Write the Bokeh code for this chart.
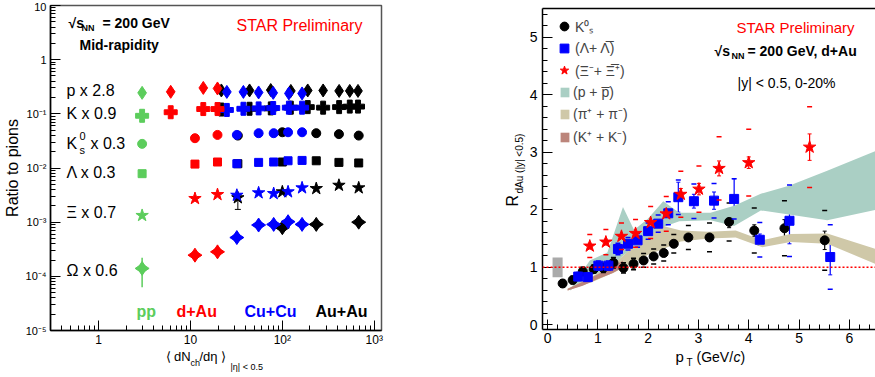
import numpy as np
from bokeh.plotting import figure
from bokeh.models import (Label, Range1d, FixedTicker, CustomJSTickFormatter, Whisker, TeeHead,
                          ColumnDataSource, Legend, LegendItem, LinearAxis, Span)
from bokeh.layouts import row, column
from bokeh.embed import file_html
from bokeh.resources import INLINE

FONT = "Liberation Sans"
GREEN = "#5ccd5c"
RED = "#ff0000"
BLUE = "#0000ff"
BLACK = "#000000"

# ---------------- Left panel: ratios to pions vs <dNch/deta> ----------------
pp_x = [2.98]
pp_p = [0.244]
pp_K = [0.092]
pp_K0s = [0.0279]
pp_Lam = [0.00786]
pp_Xi = [0.00133]
pp_Om = [1.40e-4]
pp_Om_lo = [6.3e-5]
pp_Om_hi = [2.2e-4]

dAu_x_pk = [6.1, 13.8, 19.7]
dAu_p = [0.255, 0.301, 0.294]
dAu_K = [0.107, 0.1225, 0.1225]
dAu_x_s = [11.2, 19.7]
dAu_K0s = [0.0355, 0.0408]
dAu_Lam = [0.0118, 0.0129]
dAu_Xi = [0.00273, 0.00323]
dAu_Om = [2.46e-4, 2.83e-4]

CuCu_x_pk = [24.9, 37.7, 55.2, 79.6, 117.8, 164.0]
CuCu_p = [0.254, 0.254, 0.248, 0.244, 0.238, 0.238]
CuCu_K = [0.118, 0.124, 0.126, 0.128, 0.130, 0.130]
CuCu_x_s = [32.0, 55.2, 80.5, 115.4, 164.0]
CuCu_K0s = [0.0408, 0.0439, 0.0439, 0.0457, 0.0457]
CuCu_Lam = [0.0120, 0.0127, 0.0129, 0.0136, 0.0138]
CuCu_Xi = [0.00314, 0.00348, 0.00337, 0.00363, 0.0043]
CuCu_Om = [5.2e-4, 8.85e-4, 9.1e-4, 1.02e-3, 9.1e-4]

AuAu_x_pk = [21.7, 44.0, 74.8, 123.8, 189.0, 278.0, 415.0, 542.0, 666.0]
AuAu_p = [0.270, 0.270, 0.275, 0.265, 0.270, 0.270, 0.265, 0.265, 0.265]
AuAu_K = [0.120, 0.124, 0.126, 0.130, 0.133, 0.130, 0.133, 0.136, 0.136]
AuAu_x_s = [32.8, 100.0, 234.0, 413.0, 678.0]
AuAu_K0s = [0.0397, 0.0457, 0.0439, 0.0422, 0.0397]
AuAu_Lam = [0.0120, 0.0129, 0.0136, 0.0127, 0.0124]
AuAu_Xi = [0.00282, 0.00363, 0.00417, 0.0048, 0.0043]
AuAu_Xi_err_x = [32.8]
AuAu_Xi_err_lo = [0.00172]
AuAu_Xi_err_hi = [0.0033]
AuAu_x_om = [100.0, 234.0, 678.0]
AuAu_Om = [7.9e-4, 9.1e-4, 1.0e-3]

y_ticks_left = [1e-5, 1e-4, 1e-3, 1e-2, 1e-1, 1, 10]
x_ticks_left = [1, 10, 100, 1000]

# ---------------- Right panel: R_dAu vs pT ----------------
K0s_pt = [0.30, 0.50, 0.70, 0.92, 1.11, 1.31, 1.51, 1.71, 1.91, 2.11, 2.31, 2.51, 2.80, 3.22, 3.61, 4.11, 4.71, 5.51]
K0s_R = [0.72, 0.78, 0.93, 0.97, 0.99, 1.08, 0.99, 1.06, 1.12, 1.19, 1.25, 1.41, 1.52, 1.52, 1.79, 1.64, 1.68, 1.47]
K0s_stat = [0.02, 0.02, 0.02, 0.03, 0.03, 0.03, 0.04, 0.04, 0.04, 0.04, 0.05, 0.05, 0.05, 0.06, 0.10, 0.10, 0.15, 0.16]
K0s_sys = [0.06, 0.06, 0.07, 0.07, 0.08, 0.09, 0.09, 0.10, 0.12, 0.13, 0.14, 0.16, 0.21, 0.25, 0.33, 0.39, 0.48, 0.52]

Lam_pt = [0.61, 0.80, 1.01, 1.21, 1.40, 1.60, 1.79, 2.00, 2.20, 2.40, 2.60, 2.91, 3.31, 3.71, 4.22, 4.81, 5.62]
Lam_R = [0.84, 0.83, 1.03, 1.03, 1.32, 1.41, 1.47, 1.63, 1.76, 1.94, 2.22, 2.15, 2.16, 2.19, 1.48, 1.81, 1.18]
Lam_stat = [0.04, 0.04, 0.05, 0.05, 0.06, 0.06, 0.07, 0.07, 0.08, 0.10, 0.26, 0.12, 0.15, 0.35, 0.10, 0.40, 0.31]
Lam_sys = [0.07, 0.07, 0.08, 0.08, 0.10, 0.11, 0.12, 0.14, 0.15, 0.20, 0.30, 0.30, 0.30, 0.35, 0.30, 0.62, 0.56]

Xi_pt = [0.84, 1.16, 1.47, 1.75, 2.05, 2.36, 2.65, 3.01, 3.41, 4.00, 5.21]
Xi_R = [1.37, 1.44, 1.54, 1.59, 1.78, 1.93, 2.27, 2.36, 2.72, 2.82, 3.09]
Xi_stat = [0.05, 0.05, 0.06, 0.06, 0.07, 0.08, 0.10, 0.10, 0.13, 0.10, 0.23]
Xi_sys = [0.20, 0.22, 0.23, 0.24, 0.28, 0.30, 0.40, 0.40, 0.55, 0.58, 0.70]

p_band_pt = [0.45, 0.84, 1.19, 1.50, 1.72, 2.00, 2.30, 2.62, 3.24, 3.71, 4.24, 4.80, 5.56, 6.52]
p_band_hi = [0.62, 1.12, 1.26, 2.05, 1.65, 1.85, 2.15, 1.95, 1.95, 2.07, 2.28, 2.42, 2.68, 3.02]
p_band_lo = [0.60, 0.85, 0.95, 1.20, 1.35, 1.50, 1.70, 1.80, 1.82, 1.72, 1.99, 1.92, 1.82, 2.00]

pi_band_pt = [0.40, 0.90, 1.30, 1.66, 2.00, 2.30, 2.65, 3.20, 3.74, 4.27, 4.83, 5.56, 6.52]
pi_band_hi = [0.63, 0.85, 1.05, 1.32, 1.55, 1.72, 1.64, 1.62, 1.64, 1.47, 1.58, 1.59, 1.32]
pi_band_lo = [0.60, 0.75, 0.90, 1.06, 1.22, 1.32, 1.45, 1.50, 1.52, 1.35, 1.44, 1.41, 1.06]

K_band_pt = [0.40, 0.70, 1.00, 1.30, 1.50]
K_band_hi = [0.63, 0.75, 0.88, 1.02, 1.12]
K_band_lo = [0.60, 0.68, 0.80, 0.90, 1.00]

norm_pt = [0.10, 0.30]
norm_unc = 0.17

# ---------------- helpers ----------------
LOG_FMT = CustomJSTickFormatter(code="""
const e = Math.round(Math.log10(tick));
if (e === 0) { return "1"; }
if (e === 1) { return "10"; }
const sup = {"-": "\\u207b", "0": "\\u2070", "1": "\\u00b9", "2": "\\u00b2", "3": "\\u00b3",
             "4": "\\u2074", "5": "\\u2075", "6": "\\u2076"};
return "10" + String(e).split("").map(c => sup[c]).join("");
""")


def add_text(fig, frame_left, frame_bottom, X, Y, text, size, color="black", style="normal",
             align="left", baseline="middle", angle=0.0):
    fig.add_layout(Label(x=X - frame_left, y=frame_bottom - Y, x_units="screen", y_units="screen",
                         text=text, text_font=FONT, text_font_size=f"{size}px", text_color=color,
                         text_font_style=style, text_align=align, text_baseline=baseline, angle=angle))


def style_axis(ax, size, standoff):
    ax.axis_line_color = "black"
    ax.axis_line_width = 1.5
    ax.major_tick_in = 10
    ax.major_tick_out = 0
    ax.minor_tick_in = 5
    ax.minor_tick_out = 0
    ax.major_tick_line_color = "black"
    ax.minor_tick_line_color = "black"
    ax.major_label_text_font = FONT
    ax.major_label_text_font_size = f"{size}px"
    ax.major_label_text_color = "black"
    ax.major_label_standoff = standoff


def text_fig(w, h):
    f = figure(width=w, height=h, x_range=Range1d(0, w), y_range=Range1d(0, h),
               output_backend="svg", toolbar_location=None, x_axis_location=None, y_axis_location=None,
               min_border=0)
    f.grid.visible = False
    f.outline_line_color = None
    return f


# ================= LEFT FIGURE =================
L_LEFT, L_BOTTOM = 47, 332
p1 = figure(width=437, height=349, x_axis_type="log", y_axis_type="log",
            x_range=Range1d(0.3, 1200), y_range=Range1d(1e-5, 10),
            output_backend="svg", toolbar_location=None,
            min_border_left=47, min_border_right=56, min_border_top=5, min_border_bottom=17)
p1.grid.visible = False
p1.outline_line_color = "#555555"
p1.outline_line_width = 1.5
p1.yaxis.ticker = FixedTicker(ticks=y_ticks_left,
                              minor_ticks=[k * 10.0 ** e for e in range(-5, 1) for k in range(2, 10)])
p1.xaxis.ticker = FixedTicker(ticks=x_ticks_left,
                              minor_ticks=[k * 10.0 ** e for e in range(-1, 3) for k in range(2, 10)
                                           if 0.3 <= k * 10.0 ** e <= 1200])
p1.yaxis.formatter = LOG_FMT
p1.xaxis.formatter = LOG_FMT
style_axis(p1.yaxis[0], 11, 4)
style_axis(p1.xaxis[0], 12, 2)
p1.yaxis.axis_label = "Ratio to pions"
p1.yaxis.axis_label_text_font = FONT
p1.yaxis.axis_label_text_font_size = "16px"
p1.yaxis.axis_label_text_font_style = "normal"
p1.yaxis.axis_label_text_color = "black"
p1.yaxis.axis_label_standoff = 2


def draw_set(fig, color, x_pk, p, K, x_s, K0s, Lam, Xi, x_om, Om):
    fig.scatter(x_pk, p, marker="diamond", size=13, color=color)
    fig.scatter(x_pk, K, marker="plus", size=13, color=color)
    fig.scatter(x_s, K0s, marker="circle", size=9, color=color)
    fig.scatter(x_s, Lam, marker="square", size=8, color=color)
    fig.scatter(x_s, Xi, marker="star", size=13, color=color)
    fig.scatter(x_om, Om, marker="diamond", size=14, color=color)
    fig.scatter(x_om, Om, marker="diamond", size=14, angle=np.pi / 2, color=color)


draw_set(p1, BLACK, AuAu_x_pk, AuAu_p, AuAu_K, AuAu_x_s, AuAu_K0s, AuAu_Lam, AuAu_Xi, AuAu_x_om, AuAu_Om)
p1.add_layout(Whisker(source=ColumnDataSource(dict(x=AuAu_Xi_err_x, lo=AuAu_Xi_err_lo, hi=AuAu_Xi_err_hi)),
                      base="x", lower="lo", upper="hi", dimension="height", line_color=BLACK, line_width=1,
                      lower_head=TeeHead(size=6, line_color=BLACK), upper_head=None))
draw_set(p1, BLUE, CuCu_x_pk, CuCu_p, CuCu_K, CuCu_x_s, CuCu_K0s, CuCu_Lam, CuCu_Xi, CuCu_x_s, CuCu_Om)
draw_set(p1, RED, dAu_x_pk, dAu_p, dAu_K, dAu_x_s, dAu_K0s, dAu_Lam, dAu_Xi, dAu_x_s, dAu_Om)
p1.add_layout(Whisker(source=ColumnDataSource(dict(x=pp_x, lo=pp_Om_lo, hi=pp_Om_hi)),
                      base="x", lower="lo", upper="hi", dimension="height", line_color=GREEN, line_width=1.5,
                      lower_head=None, upper_head=None))
draw_set(p1, GREEN, pp_x, pp_p, pp_K, pp_x, pp_K0s, pp_Lam, pp_Xi, pp_x, pp_Om)

t1 = lambda X, Y, s, size, **kw: add_text(p1, L_LEFT, L_BOTTOM, X, Y, s, size, **kw)
t1(65, 24, "\u221as", 14, style="bold")
t1(78, 29, "NN", 9, style="bold")
t1(99, 24, "= 200 GeV", 14, style="bold")
t1(76, 46, "Mid-rapidity", 14, style="bold")
t1(233, 27, "STAR Preliminary", 16, color=RED)
t1(63, 92, "p x 2.8", 16)
t1(63, 115, "K x 0.9", 16)
t1(63, 145, "K", 16)
t1(76, 137, "0", 11)
t1(76, 151, "s", 11)
t1(87, 145, "x 0.3", 16)
t1(63, 174, "\u039b x 0.3", 16)
t1(63, 214, "\u039e x 0.7", 16)
t1(63, 272, "\u03a9 x 0.6", 16)
t1(133, 313, "pp", 16, color=GREEN, style="bold")
t1(173, 313, "d+Au", 16, color=RED, style="bold")
t1(241, 313, "Cu+Cu", 16, color=BLUE, style="bold")
t1(312, 313, "Au+Au", 16, color=BLACK, style="bold")

# left x-axis title (own strip below the panel; its frame is aligned with the panel frame)
xt1 = text_fig(437, 28)
XT1_LEFT, XT1_BOTTOM = 47, 377
tx1 = lambda X, Y, s, size, **kw: add_text(xt1, XT1_LEFT, XT1_BOTTOM, X, Y, s, size, **kw)
tx1(162, 356, "\u27e8 dN", 13)
tx1(187, 362, "ch", 9)
tx1(196, 356, "/d\u03b7 \u27e9", 13)
tx1(227, 366, "|\u03b7| < 0.5", 9)

# ================= RIGHT FIGURE =================
R_LEFT, R_BOTTOM = 541, 329
p2 = figure(width=349, height=349, x_range=Range1d(-0.1, 6.52), y_range=Range1d(-0.08, 5.5),
            output_backend="svg", toolbar_location=None,
            min_border_left=15, min_border_right=0, min_border_top=8, min_border_bottom=20)
p2.grid.visible = False
p2.outline_line_color = None
p2.xaxis.ticker = FixedTicker(ticks=[0, 1, 2, 3, 4, 5, 6], minor_ticks=list(np.arange(0, 6.6, 0.2)))
p2.yaxis.ticker = FixedTicker(ticks=[0, 1, 2, 3, 4, 5], minor_ticks=list(np.arange(0, 5.5, 0.2)))
style_axis(p2.yaxis[0], 14, 5)
style_axis(p2.xaxis[0], 14, 3)
top_ax = LinearAxis(ticker=FixedTicker(ticks=[]), major_tick_in=0, major_tick_out=0, minor_tick_in=0,
                    minor_tick_out=0, axis_line_color="black", axis_line_width=1.5)
p2.add_layout(top_ax, "above")

r_p = p2.varea(x=p_band_pt, y1=p_band_lo, y2=p_band_hi, fill_color="#aacfc4")
r_pi = p2.varea(x=pi_band_pt, y1=pi_band_lo, y2=pi_band_hi, fill_color="#cfc8a8")
r_K = p2.varea(x=K_band_pt, y1=K_band_lo, y2=K_band_hi, fill_color="#bc857b")
p2.quad(left=[norm_pt[0]], right=[norm_pt[1]], bottom=[1 - norm_unc], top=[1 + norm_unc],
        fill_color="#aaaaaa", line_color=None)
p2.add_layout(Span(location=1, dimension="width", line_color="red", line_dash="2 2", line_width=1.5))


def rdau_series(fig, pt, R, stat, sys_, color, marker, size):
    R = np.array(R)
    sys_ = np.array(sys_)
    stat = np.array(stat)
    fig.scatter(pt, R + sys_, marker="dash", size=5, line_width=1.5, color=color)
    fig.scatter(pt, R - sys_, marker="dash", size=5, line_width=1.5, color=color)
    fig.add_layout(Whisker(source=ColumnDataSource(dict(x=pt, lo=R - stat, hi=R + stat)),
                           base="x", lower="lo", upper="hi", dimension="height", line_color=color,
                           line_width=1.2, lower_head=TeeHead(size=4, line_color=color),
                           upper_head=TeeHead(size=4, line_color=color)))
    return fig.scatter(pt, R, marker=marker, size=size, color=color)


r_k0 = rdau_series(p2, K0s_pt, K0s_R, K0s_stat, K0s_sys, BLACK, "circle", 9)
r_lam = rdau_series(p2, Lam_pt, Lam_R, Lam_stat, Lam_sys, BLUE, "square", 9)
r_xi = rdau_series(p2, Xi_pt, Xi_R, Xi_stat, Xi_sys, RED, "star", 13)

leg1 = Legend(items=[LegendItem(label="K\u2070\u209b", renderers=[r_k0]),
                     LegendItem(label="(\u039b+ \u039b\u0305)", renderers=[r_lam]),
                     LegendItem(label="(\u039e\u207b+ \u039e\u0305\u207a)", renderers=[r_xi])],
              location=(11, 248), glyph_width=22, glyph_height=22, label_height=22, spacing=0,
              padding=0, margin=0, label_standoff=0, border_line_color=None, background_fill_alpha=0,
              label_text_font=FONT, label_text_font_size="14px")
leg2 = Legend(items=[LegendItem(label="(p + p\u0305)", renderers=[r_p]),
                     LegendItem(label="(\u03c0\u207a + \u03c0\u207b)", renderers=[r_pi]),
                     LegendItem(label="(K\u207a + K\u207b)", renderers=[r_K])],
              location=(17, 183), glyph_width=11, glyph_height=12, label_height=17, spacing=4,
              padding=0, margin=0, label_standoff=3, border_line_color=None, background_fill_alpha=0,
              label_text_font=FONT, label_text_font_size="14px")
p2.add_layout(leg1)
p2.add_layout(leg2)

t2 = lambda X, Y, s, size, **kw: add_text(p2, R_LEFT, R_BOTTOM, X, Y, s, size, **kw)
t2(735, 27, "STAR Preliminary", 15, color=RED)
t2(713, 50, "\u221as", 14, style="bold")
t2(730, 55, "NN", 9, style="bold")
t2(746, 50, "= 200 GeV, d+Au", 14, style="bold")
t2(736, 82, "|y| < 0.5, 0-20%", 14)

# right y-axis title (own strip left of the panel; frame aligned vertically with the panel frame)
yt2 = text_fig(89, 349)
YT2_LEFT, YT2_BOTTOM = 437, 329
ty2 = lambda X, Y, s, size, **kw: add_text(yt2, YT2_LEFT, YT2_BOTTOM, X, Y, s, size, **kw)
ty2(512, 206, "R", 16, angle=np.pi / 2)
ty2(519, 193, "dAu (|y| <0.5)", 10, angle=np.pi / 2)

# right x-axis title (own strip below the panel)
xt2 = text_fig(438, 28)
XT2_LEFT, XT2_BOTTOM = 437, 377
tx2 = lambda X, Y, s, size, **kw: add_text(xt2, XT2_LEFT, XT2_BOTTOM, X, Y, s, size, **kw)
tx2(675, 356, "p", 15)
tx2(686, 362, "T", 10)
tx2(696, 356, "(GeV/", 14)
tx2(733, 356, "c", 14, style="italic")
tx2(740, 356, ")", 14)

left_col = column(p1, xt1)
right_col = column(row(yt2, p2), xt2)
layout = row(left_col, right_col)
open("out.html", "w").write(file_html(layout, INLINE))
